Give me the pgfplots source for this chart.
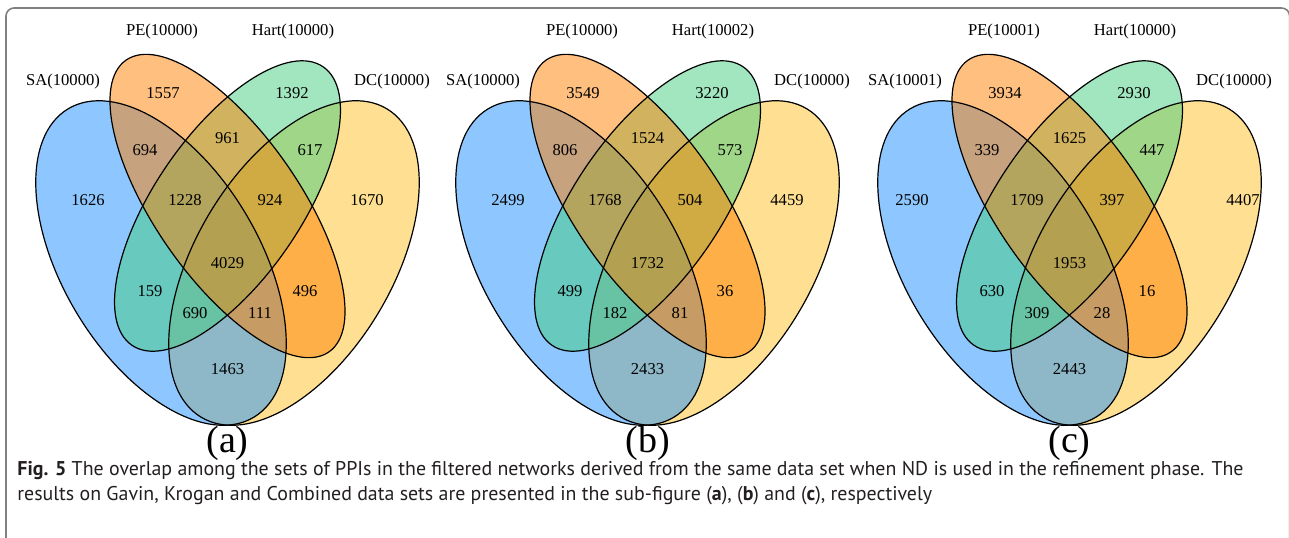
\documentclass[border=0pt]{standalone}
\usepackage{pgfplots}
\pgfplotsset{compat=1.18}
\usepackage{pgfplotstable}
\usepackage{fontspec}
\setmainfont{Liberation Serif}
\newfontfamily\capfont{PT Sans}

\definecolor{saBlue}{RGB}{30,144,255}
\definecolor{peOrange}{RGB}{255,127,0}
\definecolor{hartGreen}{RGB}{67,205,128}
\definecolor{dcGold}{RGB}{255,193,37}
\definecolor{frameGray}{RGB}{128,128,128}
\definecolor{capText}{RGB}{35,31,32}

\newcommand\numfont{\fontsize{8.3pt}{9pt}\selectfont}
\newcommand\panelfont{\rmfamily\fontsize{19pt}{21pt}\selectfont}
\newcommand\figcapfont{\capfont\fontsize{9.95pt}{11pt}\selectfont}

% region counts; x, y are positions in figure pixels
\pgfplotstableread{
x     y    n
163   93   1557
292   93   1392
145   150  694
227.5 138  961
310   150  617
88    200  1626
185   200  1228
270   200  924
367   200  1670
227.5 263  4029
150   291  159
305   291  496
195   313  690
260   313  111
227.5 369  1463
}\gavin
\pgfplotstableread{
x     y    n
583   93   3549
712   93   3220
565   150  806
647.5 138  1524
730   150  573
508   200  2499
605   200  1768
690   200  504
787   200  4459
647.5 263  1732
570   291  499
725   291  36
615   313  182
680   313  81
647.5 369  2433
}\krogan
\pgfplotstableread{
x      y    n
1005   93   3934
1134   93   2930
987    150  339
1069.5 138  1625
1152   150  447
912    200  2590
1027   200  1709
1112   200  397
1243   200  4407
1069.5 263  1953
992    291  630
1147   291  16
1037   313  309
1102   313  28
1069.5 369  2443
}\combined

% the four ellipses of one diagram, moved right by #1 pixels
\newcommand\vennsets[1]{%
  \fill[dcGold, fill opacity=0.5, rotate around={58.9:(axis cs:294+#1,263)}]
    (axis cs:294+#1,263) ellipse [x radius=90pt, y radius=49pt];
  \fill[saBlue, fill opacity=0.5, rotate around={-58.9:(axis cs:161+#1,263)}]
    (axis cs:161+#1,263) ellipse [x radius=90pt, y radius=49pt];
  \fill[hartGreen, fill opacity=0.5, rotate around={55.5:(axis cs:227.5+#1,206)}]
    (axis cs:227.5+#1,206) ellipse [x radius=84.45pt, y radius=36.45pt];
  \fill[peOrange, fill opacity=0.5, rotate around={-55.2:(axis cs:227.5+#1,206)}]
    (axis cs:227.5+#1,206) ellipse [x radius=88.85pt, y radius=36.15pt];
  \draw[black, line width=0.6pt, rotate around={58.9:(axis cs:294+#1,263)}]
    (axis cs:294+#1,263) ellipse [x radius=90pt, y radius=49pt];
  \draw[black, line width=0.6pt, rotate around={-58.9:(axis cs:161+#1,263)}]
    (axis cs:161+#1,263) ellipse [x radius=90pt, y radius=49pt];
  \draw[black, line width=0.6pt, rotate around={55.5:(axis cs:227.5+#1,206)}]
    (axis cs:227.5+#1,206) ellipse [x radius=84.45pt, y radius=36.45pt];
  \draw[black, line width=0.6pt, rotate around={-55.2:(axis cs:227.5+#1,206)}]
    (axis cs:227.5+#1,206) ellipse [x radius=88.85pt, y radius=36.15pt];
}

% set names with sizes, moved right by #1
\newcommand\setnames[5]{%
  \node[font=\numfont] at (axis cs:63+#1,82) {SA(#2)};
  \node[font=\numfont] at (axis cs:162+#1,32) {PE(#3)};
  \node[font=\numfont] at (axis cs:293+#1,32) {Hart(#4)};
  \node[font=\numfont] at (axis cs:392+#1,82) {DC(#5)};
}

\begin{document}
\begin{tikzpicture}
\begin{axis}[
  scale only axis, width=644.5pt, height=268.5pt,
  xmin=0, xmax=1289, ymin=0, ymax=537, y dir=reverse,
  hide axis,
  nodes near coords, point meta=explicit symbolic,
  nodes near coords align={center},
  every node near coord/.append style={font=\numfont, text=black},
]
  % frame around the figure
  \draw[frameGray, line width=0.8pt, rounded corners=4pt]
    (axis cs:6,600) -- (axis cs:6,8) -- (axis cs:1289.6,8) -- (axis cs:1289.6,600);

  \vennsets{0}
  \vennsets{420}
  \vennsets{842}

  \addplot[draw=none] table[x=x, y=y, meta=n] {\gavin};
  \addplot[draw=none] table[x=x, y=y, meta=n] {\krogan};
  \addplot[draw=none] table[x=x, y=y, meta=n] {\combined};

  \setnames{0}{10000}{10000}{10000}{10000}
  \setnames{420}{10000}{10000}{10002}{10000}
  \setnames{842}{10001}{10001}{10000}{10000}

  \node[font=\panelfont, inner sep=0pt] at (axis cs:227.5,443) {(a)};
  \node[font=\panelfont, inner sep=0pt] at (axis cs:647.5,443) {(b)};
  \node[font=\panelfont, inner sep=0pt] at (axis cs:1069.5,443) {(c)};

  \node[anchor=base west, inner sep=0pt, text=capText, font=\figcapfont]
    at (axis cs:17,475) {\textbf{Fig. 5} The overlap among the sets of PPIs in the filtered networks derived from the same data set when ND is used in the refinement phase. The};
  \node[anchor=base west, inner sep=0pt, text=capText, font=\figcapfont]
    at (axis cs:17,500) {results on Gavin, Krogan and Combined data sets are presented in the sub-figure (\textbf{a}), (\textbf{b}) and (\textbf{c}), respectively};
\end{axis}
\pgfresetboundingbox
\path[use as bounding box] (current axis.south west) rectangle (current axis.north east);
\end{tikzpicture}
\end{document}
